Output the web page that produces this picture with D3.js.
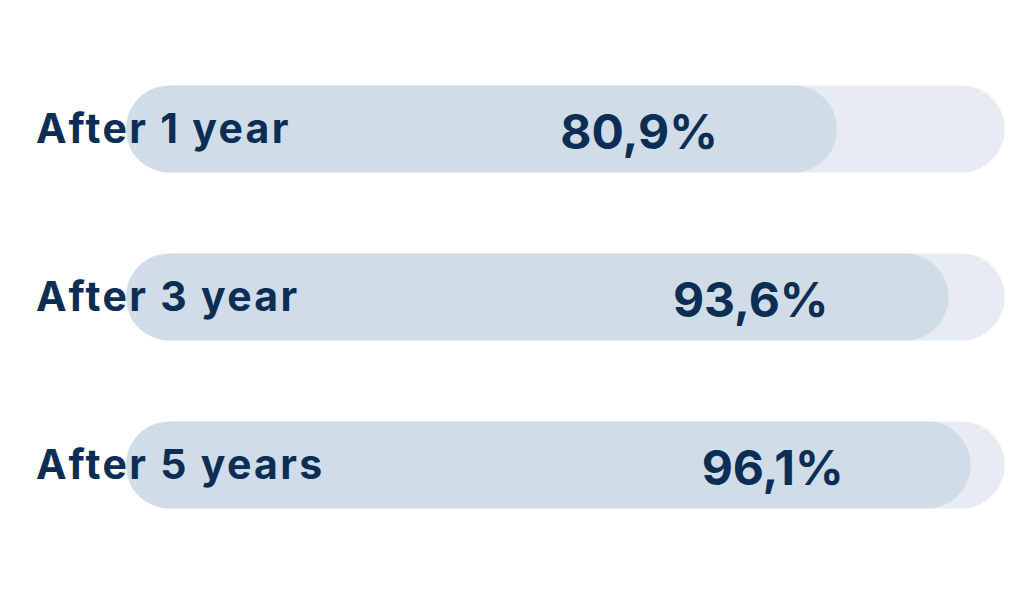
<!DOCTYPE html>
<html>
<head>
<meta charset="utf-8">
<script src="https://cdn.jsdelivr.net/npm/d3@7"></script>
<style>
  html, body { margin: 0; padding: 0; background: #ffffff; }
  svg { display: block; }
  text { font-family: Inter, "Open Sans", sans-serif; fill: #0b2e55; }
</style>
</head>
<body>
<svg id="chart" width="1024" height="600"></svg>
<script>
const categories = ["After 1 year", "After 3 year", "After 5 years"];
const values = [80.9, 93.6, 96.1];
const valueLabels = ["80,9%", "93,6%", "96,1%"];

const svg = d3.select("#chart");
const x = d3.scaleLinear().domain([0, 100]).range([126, 1005]);
const y = d3.scalePoint().domain(categories).range([129, 465]);
const barH = 87;

const rows = svg.selectAll("g.row")
  .data(categories.map((c, i) => ({ c, v: values[i], lab: valueLabels[i] })))
  .join("g").attr("class", "row");

rows.append("rect")
  .attr("x", x(0)).attr("y", d => y(d.c) - barH / 2)
  .attr("width", x(100) - x(0)).attr("height", barH)
  .attr("rx", barH / 2).attr("fill", "#e7ecf2");

rows.append("rect")
  .attr("x", x(0)).attr("y", d => y(d.c) - barH / 2)
  .attr("width", d => x(d.v) - x(0)).attr("height", barH)
  .attr("rx", barH / 2).attr("fill", "#d0dde9");

rows.append("text")
  .attr("x", 36).attr("y", d => y(d.c) + 14)
  .attr("font-size", 41).attr("font-weight", 700)
  .attr("letter-spacing", 2.3)
  .text(d => d.c);

rows.append("text")
  .attr("x", d => x(d.v) - 198).attr("y", d => y(d.c) + 20)
  .attr("text-anchor", "middle")
  .attr("font-size", 48).attr("font-weight", 700)
  .text(d => d.lab);
</script>
</body>
</html>
